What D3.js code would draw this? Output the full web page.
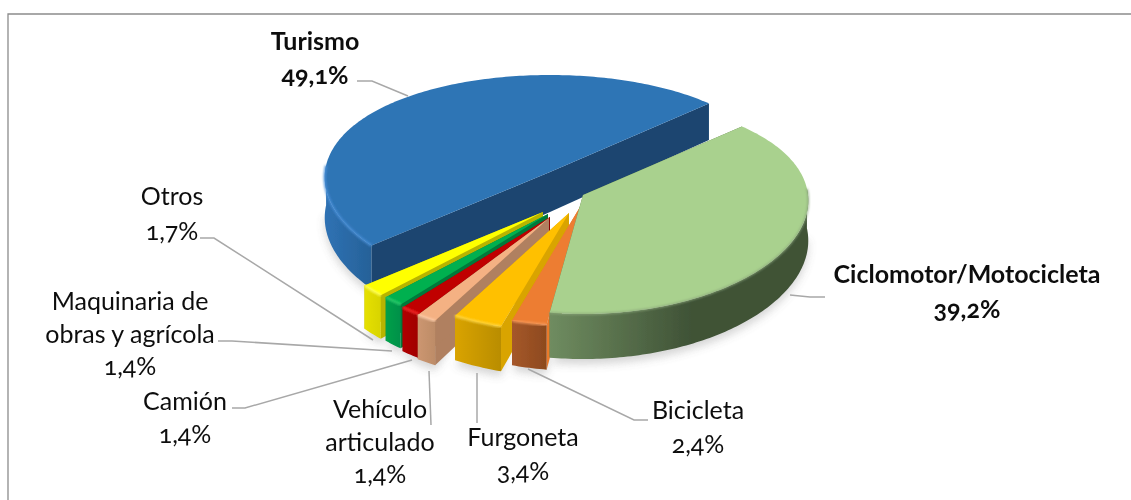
<!DOCTYPE html>
<html><head><meta charset="utf-8">
<script src="https://cdn.jsdelivr.net/npm/d3@7/dist/d3.min.js"></script>
<style>html,body{margin:0;background:#fff}svg{display:block}text{font-family:Lato,"Open Sans",sans-serif;fill:#111;font-variant-numeric:oldstyle-nums}</style>
</head><body>
<svg id="c" width="1131" height="500"></svg>
<script>
const categories=["Ciclomotor/Motocicleta","Bicicleta","Furgoneta","Vehículo articulado","Camión","Maquinaria de obras y agrícola","Otros","Turismo"];
const values=[39.2,2.4,3.4,1.4,1.4,1.4,1.7,49.1];
const topColors=["#a9d18e","#ed7d31","#ffc000","#f4b183","#c00000","#00b050","#ffff00","#2e74b5"];
const wallLeft=["#6f8c60","#a5572a","#d9a300","#cc9670","#b00000","#00a049","#e6e000","#2f72b4"];
const wallRight=["#3f5236","#8d4a1e","#b98d00","#bd8c68","#a00000","#00904a","#d8d400","#266198"];
const faceColors=["#56703f","#e97a2c","#d9a400","#b08060","#8c0000","#007a3a","#b8b400","#1a4570"];
const rimColors=["#8ba77a","#f59a5c","#ffd84a","#ffd0ae","#ff3030","#30d070","#ffff66","#4a90d8"];
const apexX=[583,580,569,549,550,548,543,550];
const apexY=[195,207,213,218,217,214,212,172];
const drawOrder=[7,6,5,4,3,2,1,0];
const labelLines=[["Ciclomotor/Motocicleta","39,2%"],["Bicicleta","2,4%"],["Furgoneta","3,4%"],["Vehículo","articulado","1,4%"],["Camión","1,4%"],["Maquinaria de","obras y agrícola","1,4%"],["Otros","1,7%"],["Turismo","49,1%"]];
const labelX=[967,698,523,380,185,130,172,315];
const labelY=[[283,318],[419,453],[446,480],[418,451,483],[410,443],[310,343,375],[205,240],[50,84]];
const labelBold=[true,false,false,false,false,false,false,true];
const leaders=[[[825,297],[810,297],[790,295]],[[648,420],[634,420],[528,369]],[[477,423],[477,373]],[[431,425],[429,371]],[[232,408],[245,408],[412,360]],[[218,341],[232,341],[392,351]],[[200,238],[214,238],[373,340]],[[357,81],[372,81],[408,96]]];

const svg=d3.select("#c");
const defs=svg.append("defs");
const blur=defs.append("filter").attr("id","soft");blur.append("feGaussianBlur").attr("stdDeviation",0.5);
const tblur=defs.append("filter").attr("id","tsoft").attr("x","-5%").attr("y","-10%").attr("width","110%").attr("height","120%");tblur.append("feGaussianBlur").attr("stdDeviation",0.35);
const blur2=defs.append("filter").attr("id","rim").attr("x","-10%").attr("y","-10%").attr("width","120%").attr("height","120%");blur2.append("feGaussianBlur").attr("stdDeviation",1);
const blur3=defs.append("filter").attr("id","shadow").attr("x","-10%").attr("y","-10%").attr("width","120%").attr("height","130%");blur3.append("feGaussianBlur").attr("stdDeviation",4);

svg.append("path").attr("d","M8,500V14H1131").attr("fill","none").attr("stroke","#8c8c8c").attr("stroke-width",1.3);

const sx=d3.scaleLinear().domain([-1,1]).range([-225,225]);
const sy=d3.scaleLinear().domain([-1,1]).range([-108,108]);
const H=40;
function proj(i,a,r,z){
  const X=Math.sin(a)*r,Y=-Math.cos(a)*r;
  return [apexX[i]+sx(X)*(1+0.05*Y), apexY[i]+sy(Y)+11*Y*Y+z*(H+5*Y)];
}
const start=47*Math.PI/180;
const pie=d3.pie().sort(null).value(d=>d).startAngle(start).endAngle(start+2*Math.PI);
const arcs=pie(values);
const line=d3.line();
const chart=svg.append("g").attr("filter","url(#soft)");
function arcPts(i,a0,a1,z){const n=Math.max(4,Math.ceil((a1-a0)*60));return d3.range(n+1).map(k=>proj(i,a0+(a1-a0)*k/n,1,z));}

const sh=chart.append("g").attr("filter","url(#shadow)").attr("opacity",0.3);
drawOrder.forEach(i=>{const d=arcs[i];
  const v0=Math.max(d.startAngle,Math.PI/2),v1=Math.min(d.endAngle,1.5*Math.PI);
  sh.append("path").attr("d",line(arcPts(i,v0,v1,1.12).concat([proj(i,(v0+v1)/2,0.5,0.5)]))+"Z").attr("fill","#777");});

drawOrder.forEach(i=>{
  const d=arcs[i],a0=d.startAngle,a1=d.endAngle,g=chart.append("g");
  const v0=Math.max(a0,Math.PI/2-0.06),v1=Math.min(a1,1.5*Math.PI+0.06);
  const top=arcPts(i,v0,v1,0),bot=arcPts(i,v0,v1,1);
  const all=arcPts(i,a0,a1,0);
  const xs=top.map(p=>p[0]);
  const grad=defs.append("linearGradient").attr("id","w"+i).attr("gradientUnits","userSpaceOnUse")
    .attr("x1",d3.min(xs)).attr("x2",i===0?d3.min(xs)+(d3.max(xs)-d3.min(xs))*0.55:d3.max(xs)).attr("y1",0).attr("y2",0);
  grad.append("stop").attr("offset",0).attr("stop-color",wallLeft[i]);
  grad.append("stop").attr("offset",1).attr("stop-color",wallRight[i]);
  [a0,a1].forEach(a=>{
    const o=proj(i,a,1,0),c=proj(i,a,0,0),cb=proj(i,a,0,1),ob=proj(i,a,1,1);
    g.append("path").attr("d",line([c,o,ob,cb])+"Z").attr("fill",faceColors[i]);
  });
  g.append("path").attr("d",line(top.concat(bot.slice().reverse()))+"Z").attr("fill",`url(#w${i})`);
  g.append("path").attr("d",line([proj(i,0,0,0)].concat(all))+"Z").attr("fill",topColors[i]);
  g.append("path").attr("d",line(top)).attr("fill","none").attr("stroke",rimColors[i]).attr("stroke-width",i===0?1.5:2.2).attr("filter","url(#rim)");
});

leaders.forEach(p=>svg.append("path").attr("d",line(p)).attr("fill","none").attr("stroke","#a8a8a8").attr("stroke-width",1.5));

labelLines.forEach((ls,i)=>ls.forEach((t,j)=>{
  svg.append("text").attr("x",labelX[i]).attr("y",labelY[i][j]).attr("text-anchor","middle")
    .attr("font-size",25).attr("font-weight",labelBold[i]?700:400).attr("filter","url(#tsoft)").text(t);
}));
</script>
</body></html>
